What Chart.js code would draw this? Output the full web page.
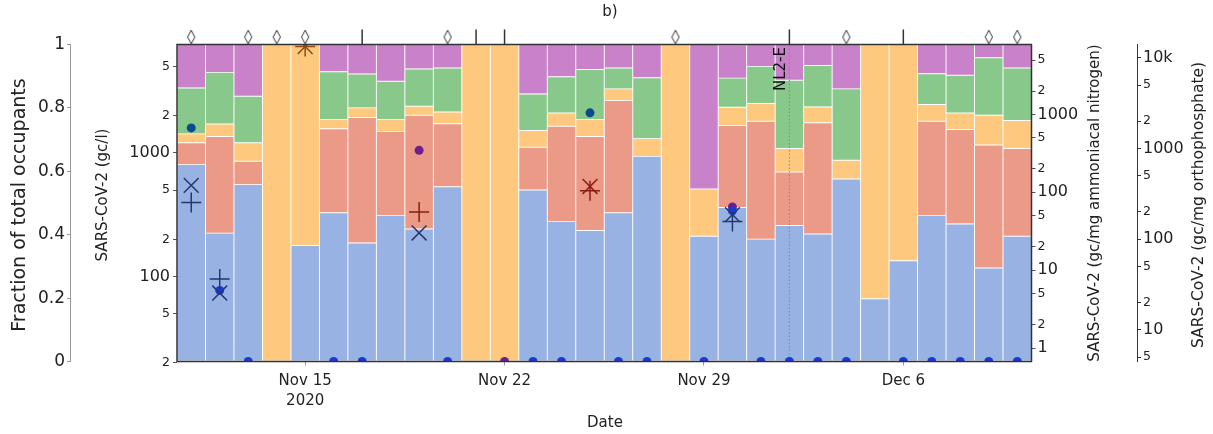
<!DOCTYPE html>
<html><head><meta charset="utf-8">
<script src="https://cdn.jsdelivr.net/npm/chart.js@4"></script>
<style>html,body{margin:0;padding:0;background:#fff;}canvas{display:block;}</style>
</head><body>
<canvas id="c" width="1213" height="434"></canvas>
<script>
// ---------- data ----------
const days = ['Nov 11','Nov 12','Nov 13','Nov 14','Nov 15','Nov 16','Nov 17','Nov 18','Nov 19','Nov 20',
  'Nov 21','Nov 22','Nov 23','Nov 24','Nov 25','Nov 26','Nov 27','Nov 28','Nov 29','Nov 30',
  'Dec 1','Dec 2','Dec 3','Dec 4','Dec 5','Dec 6','Dec 7','Dec 8','Dec 9','Dec 10'];
// fraction of total occupants (stacked, bottom to top)
const fracBlue   = [0.621,0.405,0.558,0,0.366,0.469,0.374,0.461,0.418,0.551,0,0,0.541,0.442,0.413,0.469,0.647,0,0.395,0.486,0.386,0.429,0.402,0.576,0.198,0.318,0.461,0.434,0.295,0.395];
const fracSalmon = [0.069,0.305,0.074,0,0,0.265,0.396,0.265,0.359,0.199,0,0,0.135,0.300,0.297,0.354,0,0,0,0.258,0.372,0.169,0.351,0,0,0,0.297,0.298,0.388,0.277];
const fracOrange = [0.028,0.039,0.058,1,0.634,0.029,0.030,0.037,0.028,0.037,1,1,0.053,0.042,0.053,0.037,0.056,1,0.149,0.058,0.056,0.074,0.050,0.059,0.802,0.682,0.053,0.052,0.094,0.088];
const fracGreen  = [0.145,0.163,0.147,0,0,0.151,0.107,0.121,0.118,0.139,0,0,0.115,0.114,0.158,0.066,0.192,0,0,0.092,0.117,0.215,0.131,0.225,0,0,0.097,0.119,0.181,0.166];
const fracPurple = [0.137,0.088,0.163,0,0,0.086,0.093,0.116,0.077,0.074,0,0,0.156,0.102,0.079,0.074,0.105,0,0.456,0.105,0.069,0.113,0.066,0.140,0,0,0.092,0.097,0.042,0.074];
// SARS-CoV-2 (gc/l)  "+" markers
const plusVals   = [398,95.2,null,null,7260,null,null,null,333,null,null,null,null,null,495,null,null,null,null,279,null,null,null,null,null,null,null,null,null,null];
const plusColors = ['#22386e','#22386e',null,null,'#8b4a17',null,null,null,'#8b1e0e',null,null,null,null,null,'#8b1e0e',null,null,null,null,'#22386e',null,null,null,null,null,null,null,null,null,null];
// SARS-CoV-2 (gc/mg ammoniacal nitrogen)  "x" markers
const crossVals   = [123,5.09,null,null,7460,null,null,null,30.1,null,null,null,null,null,119,null,null,null,null,51.7,null,null,null,null,null,null,null,null,null,null];
const crossColors = ['#22386e','#22386e',null,null,'#8b4a17',null,null,null,'#22386e',null,null,null,null,null,'#8b1e0e',null,null,null,null,'#22386e',null,null,null,null,null,null,null,null,null,null];
// SARS-CoV-2 (gc/mg orthophosphate)  dots (0 = not detected)
const dotNavy   = [1683,null,null,null,null,null,null,null,null,null,null,null,null,null,2466,null,null,null,null,null,null,null,null,null,null,null,null,null,null,null];
const dotBlue   = [null,27.2,0,null,null,0,0,null,null,0,null,null,0,0,null,0,0,null,0,205,0,0,0,0,null,0,0,0,0,0];
const dotPurple = [null,null,null,null,null,null,null,null,953,null,null,0,null,null,null,null,null,null,null,226,null,null,null,null,null,null,null,null,null,null];
// markers above the plot: 'd' thin diamond, '|' vertical line
const topMarks = ['d',null,'d','d','d',null,'|',null,null,'d','|','|',null,null,null,null,null,'d',null,null,null,'|',null,'d',null,'|',null,null,'d','d'];
const nl2eIndex = 21;
// axis ticks
const xTickIdx = [4,11,18,25];
const xTickLabels = [['Nov 15','2020'],'Nov 22','Nov 29','Dec 6'];
const fracTicks = [0,0.2,0.4,0.6,0.8,1];
const gclTicks = [20,50,100,200,500,1000,2000,5000];
const ammTicks = [1,2,5,10,20,50,100,200,500,1000,2000,5000];
const orthoTicks = [5,10,20,50,100,200,500,1000,2000,5000,10000];
const gclRange = [20.5, 7550];
const ammRange = [0.673, 7910];
const orthoRange = [4.47, 13990];

// ---------- helpers ----------
const FONT = 'DejaVu Sans';
const TXT = '#222';
const isMajor = v => { const e = Math.log10(v); return Math.abs(e - Math.round(e)) < 1e-9; };
const logLabel = v => {
  if (isMajor(v)) return v >= 10000 ? (v / 1000) + 'k' : String(v);
  return String(Math.round(v / Math.pow(10, Math.floor(Math.log10(v) + 1e-9))));
};
const logFont = ctx => ({family: FONT, size: (ctx && ctx.tick && isMajor(ctx.tick.value)) ? 16 : 12.5});
const barData = arr => arr.map((v, i) => ({x: i, y: v > 0 ? v : null}));
const ptsFrom = (arr, minVal) => { const out = []; arr.forEach((v, i) => { if (v !== null) out.push({x: i, y: v === 0 ? minVal : v}); }); return out; };
const colsFrom = (vals, cols) => { const out = []; vals.forEach((v, i) => { if (v !== null) out.push(cols[i]); }); return out; };

// thin diamond marker
const dia = document.createElement('canvas'); dia.width = 10; dia.height = 16;
(() => { const d = dia.getContext('2d'); d.beginPath(); d.moveTo(5, 1.2); d.lineTo(8.6, 8); d.lineTo(5, 14.8); d.lineTo(1.4, 8); d.closePath();
  d.fillStyle = '#fff'; d.fill(); d.strokeStyle = '#333'; d.lineWidth = 1; d.stroke(); })();

const topY = 1.0235;
const diaPts = [], linePts = [];
topMarks.forEach((m, i) => { if (m === 'd') diaPts.push({x: i, y: topY}); else if (m === '|') linePts.push({x: i, y: topY}); });

const barCommon = {type: 'bar', yAxisID: 'yF', xAxisID: 'x', barPercentage: 1, categoryPercentage: 1,
  borderWidth: 0.8, borderColor: 'rgba(255,255,255,0.6)', borderSkipped: false, order: 10, stack: 'occ'};

const datasets = [
  {...barCommon, data: barData(fracBlue),   backgroundColor: '#98b2e3'},
  {...barCommon, data: barData(fracSalmon), backgroundColor: '#eb9a88'},
  {...barCommon, data: barData(fracOrange), backgroundColor: '#fec97e'},
  {...barCommon, data: barData(fracGreen),  backgroundColor: '#88c98b'},
  {...barCommon, data: barData(fracPurple), backgroundColor: '#c981c9'},
  {type: 'line', yAxisID: 'yF', stack: 'nl2e', data: [{x: nl2eIndex, y: 0}, {x: nl2eIndex, y: 1}], borderColor: '#888',
   borderWidth: 1, borderDash: [1.5, 2], pointRadius: 0, order: 8, clip: 0},
  {type: 'scatter', yAxisID: 'yG', data: ptsFrom(plusVals, gclRange[0]), pointStyle: 'cross', pointRadius: 10,
   pointBorderColor: colsFrom(plusVals, plusColors), pointBorderWidth: 1.5, order: 0, clip: 0},
  {type: 'scatter', yAxisID: 'yA', data: ptsFrom(crossVals, ammRange[0]), pointStyle: 'crossRot', pointRadius: 10.5,
   pointBorderColor: colsFrom(crossVals, crossColors), pointBorderWidth: 1.5, order: 1, clip: 0},
  {type: 'scatter', yAxisID: 'yO', data: ptsFrom(dotBlue, orthoRange[0]), pointStyle: 'circle', pointRadius: 4.5,
   pointBackgroundColor: '#1b38dc', pointBorderWidth: 0, order: 2, clip: 0},
  {type: 'scatter', yAxisID: 'yO', data: ptsFrom(dotPurple, orthoRange[0]), pointStyle: 'circle', pointRadius: 4.5,
   pointBackgroundColor: '#6d1f8f', pointBorderWidth: 0, order: 3, clip: 0},
  {type: 'scatter', yAxisID: 'yO', data: ptsFrom(dotNavy, orthoRange[0]), pointStyle: 'circle', pointRadius: 4.5,
   pointBackgroundColor: '#0d4a8c', pointBorderWidth: 0, order: 4, clip: 0},
  {type: 'scatter', yAxisID: 'yF', stack: 'dia', data: diaPts, pointStyle: dia, pointRadius: 8, pointBorderWidth: 1, order: 0, clip: false},
  {type: 'scatter', yAxisID: 'yF', stack: 'vl', data: linePts, pointStyle: 'line', rotation: 90, pointRadius: 7.6,
   pointBorderColor: '#333', pointBorderWidth: 1.5, order: 0, clip: false}
];

const decor = {
  id: 'decor',
  afterDatasetsDraw(chart) {
    const {ctx, chartArea: a, scales} = chart;
    ctx.save();
    ctx.strokeStyle = '#333'; ctx.lineWidth = 1.5;
    ctx.strokeRect(a.left, a.top, a.right - a.left, a.bottom - a.top);
    const x = scales.x.getPixelForValue(nl2eIndex);
    ctx.translate(x - 4.5, a.top + 2.5); ctx.rotate(-Math.PI / 2);
    ctx.font = '15px "' + FONT + '"'; ctx.fillStyle = '#111'; ctx.textAlign = 'right'; ctx.textBaseline = 'alphabetic';
    ctx.fillText('NL2-E', 0, 0);
    ctx.restore();
  },
  afterDraw(chart) {
    const {ctx} = chart;
    const txt = (s, x, y, size, rot) => {
      ctx.save(); ctx.translate(x, y); if (rot) ctx.rotate(-Math.PI / 2);
      ctx.font = size + 'px "' + FONT + '"'; ctx.fillStyle = TXT; ctx.textAlign = 'center'; ctx.textBaseline = 'middle';
      ctx.fillText(s, 0, 0); ctx.restore();
    };
    txt('b)', 610, 12, 15, false);
    txt('Date', 605, 423, 15, false);
    txt('Fraction of total occupants', 20, 205, 19, true);
    txt('SARS-CoV-2 (gc/l)', 103, 195, 15, true);
    txt('SARS-CoV-2 (gc/mg ammoniacal nitrogen)', 1095, 203, 15, true);
    txt('SARS-CoV-2 (gc/mg orthophosphate)', 1199, 205, 15.5, true);
  }
};

const tickGrid = (len, col) => ({display: true, drawOnChartArea: false, drawTicks: true, tickLength: len, tickColor: col, offset: false});

new Chart(document.getElementById('c'), {
  type: 'bar',
  data: {datasets},
  options: {
    responsive: false, animation: false, devicePixelRatio: 1, events: [],
    layout: {padding: {top: 44.5, left: 0, right: 0, bottom: 0}},
    plugins: {legend: {display: false}, tooltip: {enabled: false}, title: {display: false}},
    scales: {
      x: {type: 'linear', min: -0.5, max: 29.5, stacked: true, offset: false,
        afterBuildTicks: s => { s.ticks = xTickIdx.map(v => ({value: v})); },
        afterFit: s => { s.height = 72.5; },
        ticks: {autoSkip: false, maxRotation: 0, padding: 5, color: TXT, font: {family: FONT, size: 15, lineHeight: 1.38},
          callback: v => xTickLabels[xTickIdx.indexOf(v)]},
        grid: tickGrid(4, '#999'), border: {display: false}},
      yF: {type: 'linear', position: 'left', min: 0, max: 1, stacked: true, weight: 2,
        afterBuildTicks: s => { s.ticks = fracTicks.map(v => ({value: v})); },
        afterFit: s => { s.width = 70; },
        ticks: {autoSkip: false, padding: 2, color: TXT, font: {family: FONT, size: 17}, callback: v => String(v)},
        grid: tickGrid(3, '#999'), border: {display: true, color: '#999', width: 1}},
      yG: {type: 'logarithmic', position: 'left', min: gclRange[0], max: gclRange[1], weight: 1,
        afterBuildTicks: s => { s.ticks = gclTicks.map(v => ({value: v})); },
        afterFit: s => { s.width = 107; },
        ticks: {autoSkip: false, padding: 3, color: TXT, font: logFont, callback: v => logLabel(v)},
        grid: tickGrid(4, '#555'), border: {display: false}},
      yA: {type: 'logarithmic', position: 'right', min: ammRange[0], max: ammRange[1], weight: 1,
        afterBuildTicks: s => { s.ticks = ammTicks.map(v => ({value: v})); },
        afterFit: s => { s.width = 105.5; },
        ticks: {autoSkip: false, padding: 2, color: TXT, font: logFont, callback: v => logLabel(v)},
        grid: tickGrid(4, '#555'), border: {display: false}},
      yO: {type: 'logarithmic', position: 'right', min: orthoRange[0], max: orthoRange[1], weight: 2,
        afterBuildTicks: s => { s.ticks = orthoTicks.map(v => ({value: v})); },
        afterFit: s => { s.width = 76; },
        ticks: {autoSkip: false, padding: 2, color: TXT, font: logFont, callback: v => logLabel(v)},
        grid: tickGrid(4, '#333'), border: {display: true, color: '#333', width: 1}}
    }
  },
  plugins: [decor]
});
</script>
</body></html>
